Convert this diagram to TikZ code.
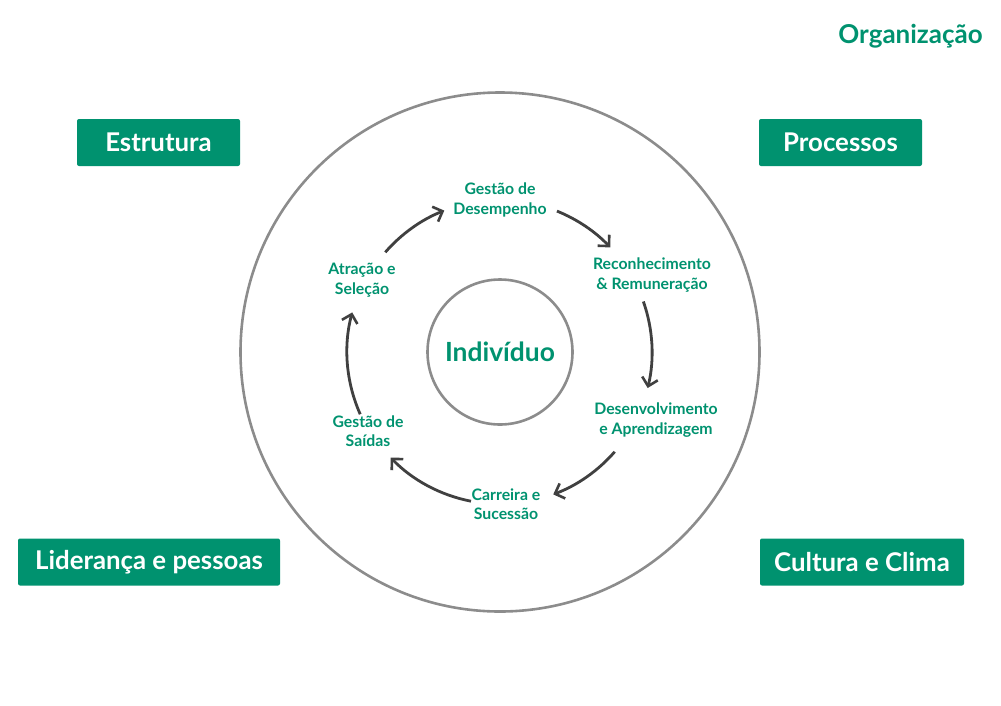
\documentclass[tikz,border=0pt]{standalone}
\usepackage{fontspec}
\setmainfont{Lato}
\usetikzlibrary{arrows.meta,calc}
\definecolor{teal1}{HTML}{00926F}
\definecolor{ringgray}{HTML}{8C8C8C}
\definecolor{arrgray}{HTML}{404040}
\tikzset{
  catbox/.style={fill=teal1, rounded corners=2pt, text=white, font=\fontsize{25.8}{30}\selectfont\bfseries, minimum height=47pt, inner sep=0pt},
  steplabel/.style={text=teal1, font=\fontsize{15.8}{19.5}\selectfont\bfseries, align=center, inner sep=0pt},
  ring/.style={draw=ringgray, line width=2.6pt},
  cyclearrow/.style={draw=arrgray, line width=2.8pt, -{Straight Barb[length=8pt, width=16pt, line width=2.6pt]}},
}
\begin{document}
\begin{tikzpicture}[x=1pt,y=1pt]
\useasboundingbox (0,0) rectangle (1001,-705);
\coordinate (c) at (500,-352);
% rings
\node[ring, circle, minimum size=519pt, inner sep=0pt] (outer) at (c) {};
\node[ring, circle, minimum size=145pt, inner sep=0pt] (inner) at (c) {};
\node[text=teal1, font=\fontsize{26.4}{30}\selectfont\bfseries, inner sep=0pt] (ind) at (500,-352) {Indivíduo};
% title
\node[text=teal1, font=\fontsize{26}{30}\selectfont\bfseries, anchor=east, inner sep=0pt] (org) at (983,-36) {Organização};
% category boxes
\node[catbox, minimum width=163pt] (estr) at (158.5,-142.5) {Estrutura};
\node[catbox, minimum width=163pt] (proc) at (840.5,-142.5) {Processos};
\node[catbox, minimum width=262pt] (lid) at (149,-562) {Liderança e pessoas};
\node[catbox, minimum width=204pt] (cult) at (862,-562) {Cultura e Clima};
% cycle labels
\node[steplabel] (gd) at (500,-200) {Gestão de\\Desempenho};
\node[steplabel] (rr) at (652,-275) {Reconhecimento\\\& Remuneração};
\node[steplabel] (da) at (656,-420) {Desenvolvimento\\e Aprendizagem};
\node[steplabel] (cs) at (506,-504) {Carreira e\\Sucessão};
\node[steplabel] (gs) at (368,-431) {Gestão de\\Saídas};
\node[steplabel] (as) at (362,-280) {Atração e\\Seleção};
% cycle arrows (arcs around the centre)
\draw[cyclearrow] ($(c)+(139:152)$) arc[start angle=139, end angle=111.5, radius=152];
\draw[cyclearrow] ($(c)+(68:152)$) arc[start angle=68, end angle=43.5, radius=152];
\draw[cyclearrow] ($(c)+(19.4:152)$) arc[start angle=19.4, end angle=-13.7, radius=152];
\draw[cyclearrow] ($(c)+(-41:152)$) arc[start angle=-41, end angle=-69.5, radius=152];
\draw[cyclearrow] ($(c)+(-101:152)$) arc[start angle=-101, end angle=-136, radius=152];
\draw[cyclearrow] ($(c)+(204:153)$) arc[start angle=204, end angle=165, radius=153];
\end{tikzpicture}
\end{document}
